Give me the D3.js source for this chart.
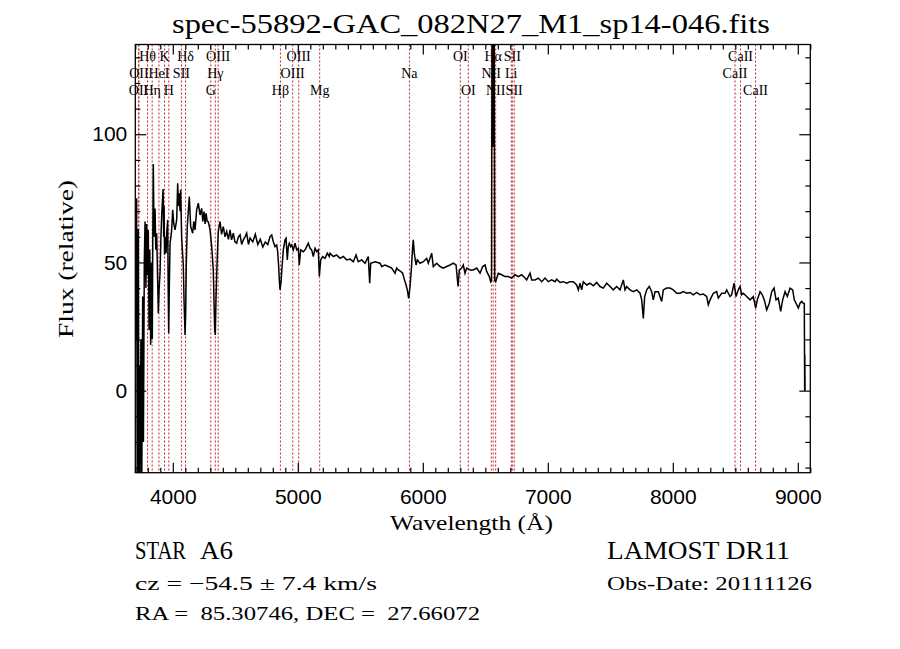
<!DOCTYPE html>
<html>
<head>
<meta charset="utf-8" />
<title>spec-55892-GAC_082N27_M1_sp14-046.fits</title>
<script src="https://cdn.jsdelivr.net/npm/d3@7/dist/d3.min.js"></script>
<style>
  body { margin: 0; background: #fff; }
  svg { display: block; }
</style>
</head>
<body>
<svg id="chart" width="900" height="649"></svg>
<script>
// spectrum (wavelength in Angstrom, relative flux)
var waves = [
  3705, 3711, 3715, 3720, 3724, 3728, 3733, 3738, 3745, 3752, 3759, 3765, 3772, 3778, 3785, 3791,
  3797, 3804, 3810, 3816, 3823, 3830, 3836, 3840, 3844, 3850, 3858, 3864, 3871, 3878, 3884, 3891,
  3898, 3905, 3911, 3922, 3927, 3930, 3934, 3940, 3946, 3952, 3959, 3963, 3967, 3972, 3978, 3985,
  3991, 3999, 4008, 4018, 4031, 4039, 4046, 4052, 4058, 4063, 4071, 4084, 4090, 4098, 4103, 4108,
  4116, 4132, 4143, 4159, 4168, 4178, 4191, 4204, 4218, 4231, 4240, 4250, 4258, 4266, 4275, 4284,
  4298, 4311, 4324, 4335, 4340, 4346, 4356, 4364, 4378, 4390, 4404, 4418, 4431, 4445, 4458, 4470,
  4484, 4497, 4511, 4525, 4538, 4551, 4564, 4578, 4591, 4605, 4618, 4640, 4660, 4680, 4700, 4720,
  4740, 4760, 4778, 4791, 4804, 4818, 4831, 4839, 4847, 4852, 4858, 4866, 4874, 4884, 4898, 4906,
  4916, 4924, 4932, 4943, 4951, 4964, 4978, 4991, 5004, 5012, 5023, 5044, 5058, 5071, 5084, 5098,
  5111, 5124, 5138, 5151, 5164, 5172, 5183, 5199, 5218, 5236, 5252,
  5258, 5284, 5311, 5338, 5364, 5391, 5418, 5444, 5466, 5484, 5511, 5538, 5564, 5575, 5583, 5618,
  5658, 5671, 5698, 5724, 5751, 5778, 5791, 5804, 5823, 5839, 5850, 5866, 5876, 5887, 5898, 5908,
  5919, 5924, 5932, 5946, 5956, 5978, 6004, 6031, 6044, 6071, 6084, 6111, 6138, 6164, 6191, 6218,
  6244, 6266, 6282, 6292, 6311, 6324, 6338, 6351, 6378, 6404, 6431, 6458, 6479, 6498, 6511, 6532,
  6543, 6550, 6556, 6560, 6563, 6566, 6570, 6575, 6583, 6604, 6631, 6658, 6684, 6711, 6738, 6764,
  6791, 6818, 6831, 6858, 6871, 6898, 6924, 6951, 6978, 7004, 7031, 7058, 7071, 7098, 7124, 7151,
  7178, 7204, 7231, 7244, 7258, 7271, 7284, 7311, 7338, 7364, 7391, 7418, 7444, 7471, 7498, 7524,
  7551, 7578, 7604, 7618, 7631, 7658, 7684, 7711, 7738, 7751, 7764, 7775, 7791, 7812, 7831, 7844,
  7858, 7884, 7911, 7924, 7951, 7978, 8004, 8031, 8058, 8084, 8111, 8138, 8164, 8191, 8218, 8244,
  8271, 8284, 8298, 8324, 8351, 8364, 8391, 8418, 8431, 8458, 8471, 8490, 8506, 8524, 8538, 8551,
  8564, 8591, 8618, 8644, 8663, 8676, 8698, 8716, 8732, 8751, 8772, 8791, 8810, 8826, 8844, 8863,
  8879, 8898, 8916, 8938, 8959, 8972, 8986, 9004, 9018, 9031, 9044, 9052, 9055, 9056, 9058
];
var fluxes = [
  20, 75, -35, 30, 63, -35, 10, -35, 20, -35, 36.7, -20, 50, 66, 40, 65,
  45, 62.7, 23.7, 55, 17.9, 50, 20, 60, 88.4, 60, 71, 55, 61.4, 45, 30.2, 40,
  46, 60, 68, 78.6, 60, 72, 53, 60, 53.6, 62, 66.6, 40, 22.4, 40, 57.5, 60,
  62.7, 70.5, 65, 62.7, 66.6, 80.9, 72, 77, 70, 78.3, 59.5, 49, 35, 21.7, 30, 49.7,
  64, 75.7, 64, 61.4, 66, 62.7, 70.5, 73.1, 68.5, 71.1, 66, 69.8, 65, 69.2, 66, 65.9,
  62.7, 56.2, 47.1, 23.7, 21.7, 36.7, 52.3, 62.1, 65.9, 61, 64, 60, 62.1, 59, 62.7, 58.8,
  61.4, 58, 57.5, 60, 60.8, 57, 58.8, 60, 61.4, 57, 59.5, 58, 61, 57, 59, 56,
  58, 57, 60.1, 60.7, 58.1, 56.2, 56.8, 54.2, 48.4, 43.2, 39.3, 42.5, 48.4, 54.9, 58.8, 59.4,
  51, 56.2, 57.5, 56.2, 56.8, 54.9, 57.5, 54.9, 55.5, 49, 54.9, 54.2, 54.9, 56.2, 57.5, 55.5,
  54.9, 52.3, 55.5, 54.2, 54.9, 44.5, 51, 52.3, 51.6, 53.6, 52.3,
  53.6, 52.3, 52.9, 51.6, 52.3, 51.0, 51.3, 50.3, 52.9, 50.3, 51.0, 49.7, 52.3, 41.9, 49.7, 50.3,
  49.7, 48.4, 49.0, 48.4, 47.8, 45.8, 47.8, 47.1, 46.5, 45.8, 43.8, 41.2, 39.3, 36.0, 40.6, 47.1,
  56.2, 58.8, 53.6, 49.0, 51.0, 49.7, 50.3, 51.6, 49.7, 53.6, 48.4, 49.7, 48.4, 47.8, 48.4, 49.0,
  49.7, 49.0, 40.6, 47.1, 47.8, 49.0, 45.8, 47.8, 47.1, 47.1, 47.8, 45.8, 48.4, 49.0, 46.5, 44.5,
  42.5, 43, 200, 95, 210, 95, 190, 43, 42.5, 45.8, 45.2, 44.5, 44.5, 43.9, 45.2, 44.5,
  45.2, 43.9, 43.2, 45.8, 43.2, 43.2, 43.9, 42.5, 43.9, 42.5, 43.2, 42.5, 43.5, 42.2, 42.5, 41.9,
  42.5, 42.5, 41.2, 39.3, 41.9, 39.3, 42.5, 41.2, 41.9, 40.9, 42.2, 40.6, 40.0, 41.9, 40.6, 39.3,
  40.6, 39.3, 43.2, 39.3, 40.6, 39.3, 38.6, 39.3, 38.0, 35.4, 28.2, 36.7, 39.3, 40.6, 38.6, 35.4,
  38.6, 38.6, 34.8, 39.3, 40.0, 40.0, 39.3, 38.0, 38.0, 38.6, 38.0, 38.3, 37.4, 38.3, 37.4, 37.7,
  36.7, 33.5, 35.4, 38.0, 38.6, 36.1, 38.0, 38.0, 39.3, 36.7, 37.4, 41.9, 36.7, 39.3, 40.6, 37.4,
  38.0, 36.7, 35.4, 36.7, 32.2, 35.4, 38.6, 37.4, 35.4, 31.5, 34.1, 38.6, 40.0, 35.4, 36.1, 30.9,
  35.4, 38.6, 36.7, 40.0, 39.3, 35.4, 34.1, 32.2, 34.1, 34.8, 34.1, 34, 0, 14, 0
];

// marked lines
var lineWaves = [3726, 3729, 3798, 3835, 3889, 3934, 3968, 4069, 4102, 4304, 4340, 4363, 4861, 4959,
  5007, 5175, 5893, 6300, 6364, 6548, 6563, 6583, 6708, 6716, 6731, 8498, 8542, 8662];
var lineNames = ["OII", "OII", "Hθ", "Hη", "HeI", "K", "H", "SII", "Hδ", "G", "Hγ", "OIII", "Hβ", "OIII",
  "OIII", "Mg", "Na", "OI", "OI", "NII", "Hα", "NII", "Li", "SII", "SII", "CaII", "CaII", "CaII"];

var xMajor = [4000, 5000, 6000, 7000, 8000, 9000];
var yMajor = [0, 50, 100];

var svg = d3.select("#chart");
var pL = 135.3, pR = 810.3, pT = 44.5, pB = 472.7;

var x = d3.scaleLinear().domain([3700, 9100]).range([pL, pR]);
var y = d3.scaleLinear().domain([-32, 135]).range([pB, pT]);

var xMinor = d3.range(3700, 9101, 100).filter(function(v) { return xMajor.indexOf(v) < 0; });
var yMinor = d3.range(-30, 131, 10).filter(function(v) { return yMajor.indexOf(v) < 0; });

svg.append("defs").append("clipPath").attr("id", "plotclip")
  .append("rect").attr("x", pL).attr("y", pT).attr("width", pR - pL).attr("height", pB - pT);

// dashed red line markers
svg.append("g").selectAll("line").data(lineWaves).enter().append("line")
  .attr("x1", function(d) { return x(d); }).attr("x2", function(d) { return x(d); })
  .attr("y1", pT).attr("y2", pB)
  .attr("stroke", "#c0262b").attr("stroke-width", 1).attr("stroke-dasharray", "2,2");

var rowY = [61, 78, 95];
var rowOf = [2, 1, 0];
svg.append("g").selectAll("text").data(lineWaves).enter().append("text")
  .attr("x", function(d) { return x(d); })
  .attr("y", function(d, i) { return rowY[rowOf[i % 3]]; })
  .attr("text-anchor", "middle")
  .attr("font-family", "Liberation Serif, serif")
  .attr("font-size", 14)
  .text(function(d, i) { return lineNames[i]; });

// spectrum
var pts = waves.map(function(w, i) { return [w, fluxes[i]]; });
svg.append("path").datum(pts)
  .attr("clip-path", "url(#plotclip)")
  .attr("fill", "none").attr("stroke", "#000").attr("stroke-width", 1.5)
  .attr("stroke-linejoin", "miter")
  .attr("d", d3.line().x(function(d) { return x(d[0]); }).y(function(d) { return y(d[1]); }));

// axes, ticks pointing inward
function styleAxis(g) {
  g.select(".domain").remove();
  g.selectAll("line").attr("stroke", "#000").attr("stroke-width", 1.2);
  g.selectAll("text").attr("font-family", "Liberation Sans, Arial, sans-serif").attr("font-size", 21).attr("fill", "#000");
}
svg.append("g").attr("transform", "translate(0," + pB + ")")
  .call(d3.axisBottom(x).tickValues(xMajor).tickSize(-10).tickPadding(16).tickFormat(d3.format("d")))
  .call(styleAxis);
svg.append("g").attr("transform", "translate(0," + pB + ")")
  .call(d3.axisBottom(x).tickValues(xMinor).tickSize(-5).tickFormat(""))
  .call(styleAxis);
svg.append("g").attr("transform", "translate(0," + pT + ")")
  .call(d3.axisTop(x).tickValues(xMajor).tickSize(-10).tickFormat(""))
  .call(styleAxis);
svg.append("g").attr("transform", "translate(0," + pT + ")")
  .call(d3.axisTop(x).tickValues(xMinor).tickSize(-5).tickFormat(""))
  .call(styleAxis);
svg.append("g").attr("transform", "translate(" + pL + ",0)")
  .call(d3.axisLeft(y).tickValues(yMajor).tickSize(-11).tickPadding(8).tickFormat(d3.format("d")))
  .call(styleAxis);
svg.append("g").attr("transform", "translate(" + pL + ",0)")
  .call(d3.axisLeft(y).tickValues(yMinor).tickSize(-5).tickFormat(""))
  .call(styleAxis);
svg.append("g").attr("transform", "translate(" + pR + ",0)")
  .call(d3.axisRight(y).tickValues(yMajor).tickSize(-11).tickFormat(""))
  .call(styleAxis);
svg.append("g").attr("transform", "translate(" + pR + ",0)")
  .call(d3.axisRight(y).tickValues(yMinor).tickSize(-5).tickFormat(""))
  .call(styleAxis);

svg.append("rect").attr("x", pL).attr("y", pT).attr("width", pR - pL).attr("height", pB - pT)
  .attr("fill", "none").attr("stroke", "#000").attr("stroke-width", 1.3);

// texts
function label(txt, px, py, size, len, anchor) {
  var t = svg.append("text").attr("x", px).attr("y", py)
    .attr("font-family", "Liberation Serif, serif").attr("font-size", size)
    .attr("fill", "#000").text(txt);
  if (anchor) t.attr("text-anchor", anchor);
  if (len) t.attr("textLength", len).attr("lengthAdjust", "spacingAndGlyphs");
  return t;
}
label("spec-55892-GAC_082N27_M1_sp14-046.fits", 172, 33, 28, 598);
label("Wavelength (Å)", 390, 530, 22, 163);
label("Flux (relative)", 0, 0, 22, 158, "middle")
  .attr("transform", "translate(73,259) rotate(-90)");

label("STAR", 135, 559, 26, 51);
label("A6", 200, 559, 26, 33);
label("LAMOST DR11", 607, 559, 26, 183);
label("cz = −54.5 ± 7.4 km/s", 135, 590, 19, 242);
label("Obs-Date: 20111126", 607, 590, 19, 205);
label("RA =  85.30746, DEC =  27.66072", 135, 620, 19, 345).style("white-space", "pre");
</script>
</body>
</html>
